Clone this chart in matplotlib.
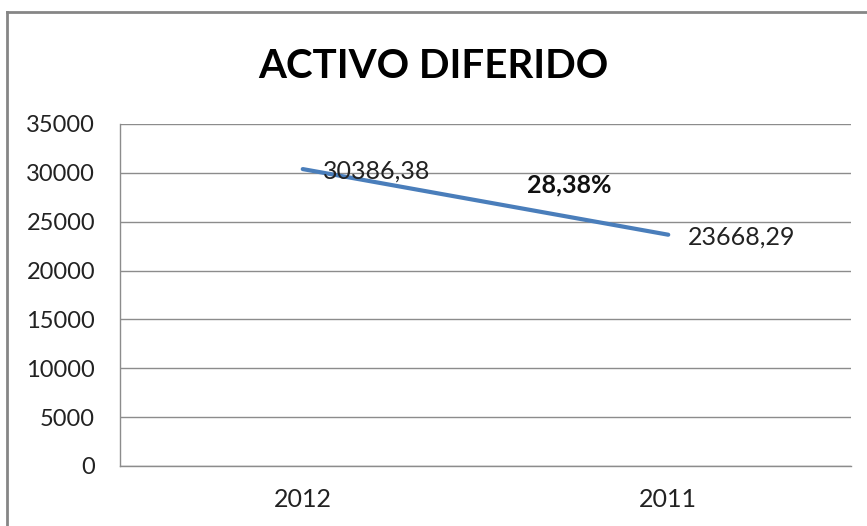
import matplotlib.pyplot as plt
from matplotlib.lines import Line2D

years = ["2012", "2011"]
values = [30386.38, 23668.29]
labels = ["30386,38", "23668,29"]
change_label = "28,38%"
change_pos = (0.73, 28750)

plt.rcParams['font.family'] = ['Lato', 'DejaVu Sans']

fig = plt.figure(figsize=(8.67, 5.26), dpi=100)
ax = fig.add_axes([120 / 867, 1 - 466 / 526, 731 / 867, 342 / 526])

x = range(len(years))
ax.plot(x, values, color="#4A7EBB", linewidth=3, solid_capstyle="round")
for xi, v, lab in zip(x, values, labels):
    ax.annotate(lab, (xi, v), xytext=(20, -2), textcoords="offset pixels",
                ha="left", va="center", fontsize=18, color="#222222")
ax.text(change_pos[0], change_pos[1], change_label, ha="center", va="center",
        fontsize=18, fontweight="bold", color="#111111")

ax.set_xlim(-0.5, 1.5)
ax.set_ylim(0, 35000)
ax.set_yticks(range(0, 35001, 5000))
ax.set_xticks(list(x))
ax.set_xticklabels(years)
ax.tick_params(axis="both", length=0, colors="#222222")
ax.tick_params(axis="y", pad=18, labelsize=17)
ax.tick_params(axis="x", pad=16, labelsize=18)
ax.grid(axis="y", color="#8c8c8c", linewidth=1)
ax.set_axisbelow(True)
for s in ["top", "right"]:
    ax.spines[s].set_visible(False)
for s in ["left", "bottom"]:
    ax.spines[s].set_color("#8c8c8c")
    ax.spines[s].set_linewidth(1)

fig.text(0.5, 1 - 66 / 526, "ACTIVO DIFERIDO", ha="center", va="center",
         fontsize=29, fontweight="bold")

# chart frame (left and top edges visible in the original crop)
fig.add_artist(Line2D([7 / 867, 7 / 867], [0, 1 - 12 / 526], color="#868686",
                      linewidth=2, transform=fig.transFigure))
fig.add_artist(Line2D([7 / 867, 1], [1 - 12 / 526, 1 - 12 / 526], color="#868686",
                      linewidth=2, transform=fig.transFigure))

fig.savefig("out.png", dpi=100)
